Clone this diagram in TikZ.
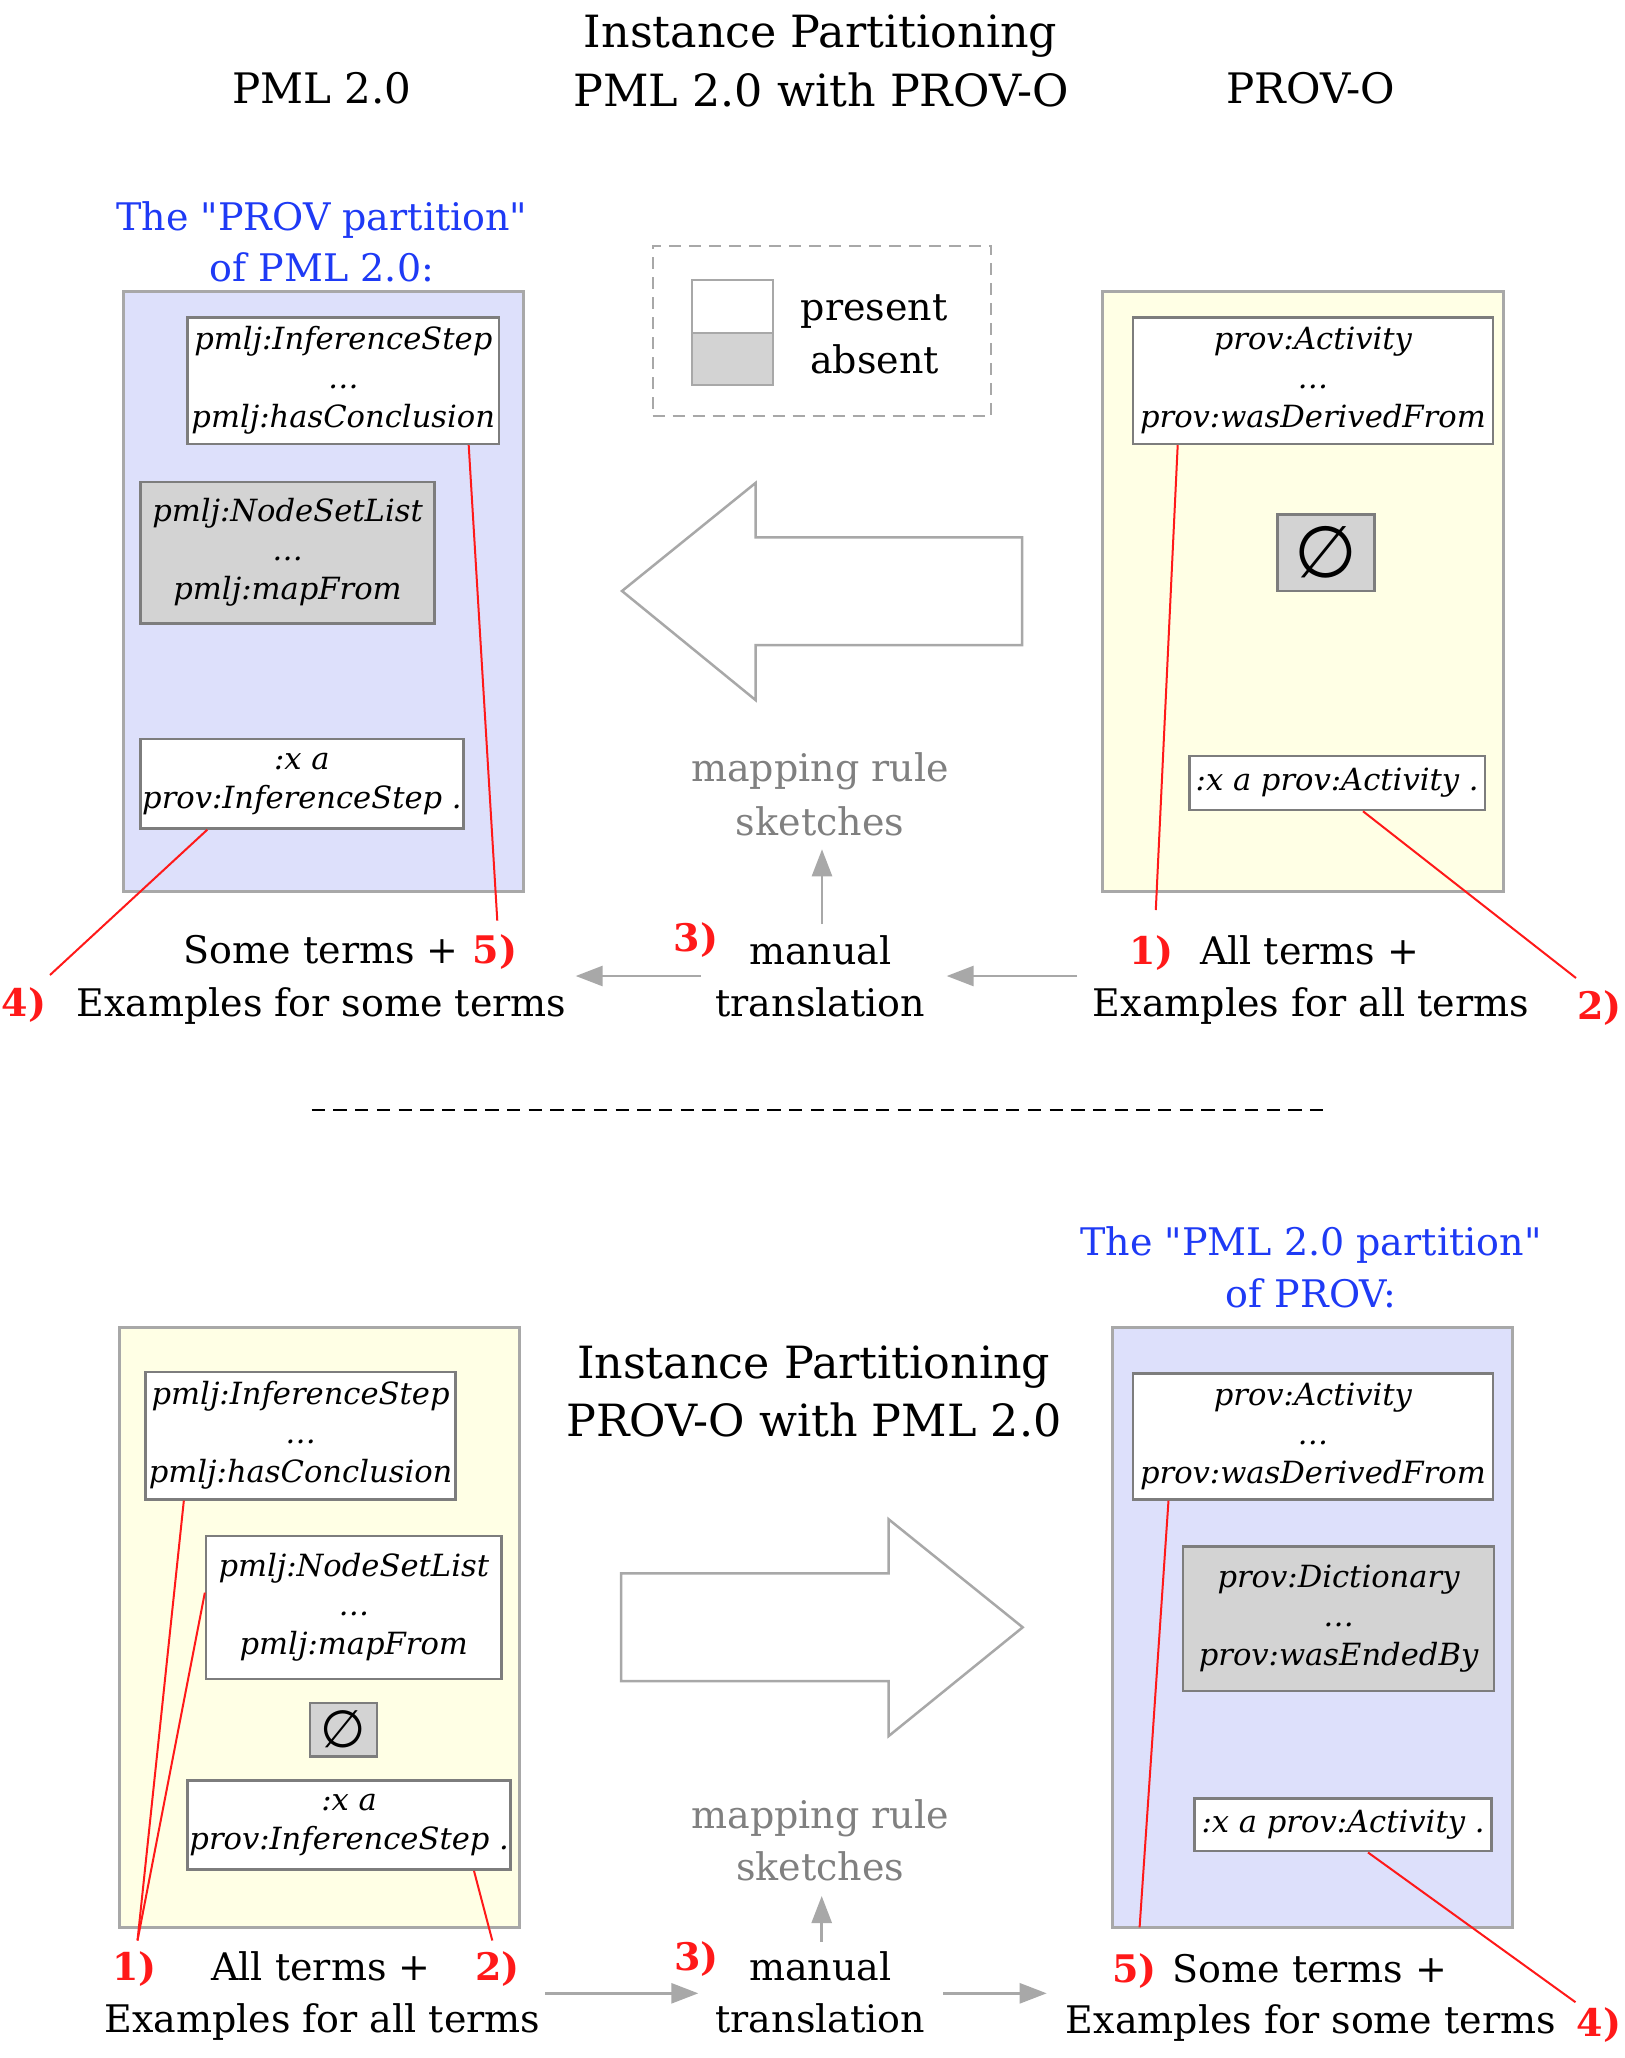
\documentclass[tikz,border=0pt]{standalone}
\usepackage{fontspec}
\setmainfont{DejaVu Serif}[Ligatures=TeXOff]
\newfontfamily\dgSymFont{DejaVu Sans}
\usetikzlibrary{arrows.meta,fit}

\definecolor{partblue}{RGB}{221,224,251}
\definecolor{partyellow}{RGB}{255,255,229}
\definecolor{absentgray}{RGB}{211,211,211}
\definecolor{framegray}{RGB}{168,168,168}
\definecolor{termgray}{RGB}{125,125,125}
\definecolor{notered}{RGB}{255,25,25}
\definecolor{headblue}{RGB}{30,58,245}
\definecolor{sketchgray}{RGB}{128,128,128}

\newcommand\dgBody{\fontsize{19pt}{26.5pt}\selectfont}
\newcommand\dgTitle{\fontsize{22.2pt}{28pt}\selectfont}
\newcommand\dgHead{\fontsize{21pt}{28pt}\selectfont}
\newcommand\dgTerm{\fontsize{15.3pt}{19.5pt}\selectfont\itshape}
\newcommand\dgNum{\fontsize{19pt}{26.5pt}\selectfont\bfseries}

% a framed box given by its corners (x1,y1) (x2,y2) in picture units
\newcommand\dgBox[7]{%
  \node[#1, minimum width={(#5-#3)*0.5pt}, minimum height={(#6-#4)*0.5pt}]
    (#2) at ({(#3+#5)/2},{(#4+#6)/2}) {#7};}

\tikzset{
  txt/.style={anchor=base, inner sep=0pt, font=\dgBody},
  headline/.style={txt, font=\dgTitle},
  colhead/.style={txt, font=\dgHead},
  partlabel/.style={txt, text=headblue},
  sketchtxt/.style={txt, text=sketchgray},
  notenum/.style={txt, font=\dgNum, text=notered},
  partbox/.style={draw=framegray, line width=1.5pt, inner sep=0pt},
  termbox/.style={draw=termgray, line width=1.25pt, fill=white, inner sep=0pt, align=center, font=\dgTerm},
  absentbox/.style={termbox, fill=absentgray},
  emptybox/.style={absentbox, font=\dgSymFont\fontsize{36pt}{40pt}\selectfont},
  legendkey/.style={draw=framegray, line width=1pt, inner sep=0pt},
  flow/.style={draw=framegray, line width=1.35pt, -{Triangle[length=13.5pt,width=10pt]}},
  callout/.style={draw=notered, line width=1pt},
  blockarrow/.style={draw=framegray, line width=1.25pt, fill=white, line join=miter},
  legendframe/.style={draw=framegray, line width=1pt, dash pattern=on 6pt off 4pt, inner sep=0pt},
}

\begin{document}
\begin{tikzpicture}[x=0.5pt,y=-0.5pt]
\useasboundingbox (0,0) rectangle (1624,2058);
\fill[white] (0,0) rectangle (1624,2058);

% ---------- upper half: PML 2.0 with PROV-O ----------
\node[headline] (titleTopA) at (820.6,47.5) {Instance Partitioning};
\node[headline] (titleTopB) at (821,106) {PML 2.0 with PROV-O};
\node[colhead] (colPml) at (321.7,103.3) {PML 2.0};
\node[colhead] (colProv) at (1311,103.3) {PROV-O};

\node[partlabel] (blueTopA) at (322,230) {The "PROV partition"};
\node[partlabel] (blueTopB) at (322,281.7) {of PML 2.0:};

% partitions
\node[partbox, fill=partblue, fit={(123.4,291.5) (523.8,891.5)}] (pmlPartA) {};
\node[partbox, fill=partyellow, fit={(1102.8,291.5) (1503.3,891.5)}] (provPartA) {};

\dgBox{termbox}{pmlStepA}{187.7}{317.7}{498.9}{443.8}{pmlj:InferenceStep\\…\\pmlj:hasConclusion}
\dgBox{absentbox}{pmlListA}{140.5}{481.8}{434.6}{623.6}{pmlj:NodeSetList\\…\\pmlj:mapFrom}
\dgBox{termbox}{pmlExA}{140.5}{739.2}{463.4}{828.4}{:x a\\prov:InferenceStep .}

\dgBox{termbox}{provActA}{1133}{317.7}{1492.8}{443.8}{prov:Activity\\…\\prov:wasDerivedFrom}
\dgBox{emptybox}{provNoneA}{1277.5}{514.7}{1374.6}{590.8}{∅}
\dgBox{termbox}{provExA}{1189.5}{756.2}{1484.9}{810}{:x a prov:Activity .}

% legend
\node[legendframe, fit={(652.5,245.5) (991.2,416.2)}] (legend) {};
\node[legendkey, fill=white, fit={(691.5,280) (772.5,332.5)}] (legPresent) {};
\node[legendkey, fill=absentgray, fit={(691.5,332.5) (772.5,385)}] (legAbsent) {};
\node[txt] (legPresentText) at (874.2,320) {present};
\node[txt] (legAbsentText) at (874.5,373.3) {absent};

% big arrow PROV-O -> PML 2.0
\draw[blockarrow] (622,591) -- (755.5,483) -- (755.5,537.3) -- (1022,537.3)
  -- (1022,645) -- (755.5,645) -- (755.5,700) -- cycle;

\node[sketchtxt] (mapTopA) at (820,781.7) {mapping rule};
\node[sketchtxt] (mapTopB) at (820,835) {sketches};
\node[txt] (manTopA) at (820.5,964.3) {manual};
\node[txt] (manTopB) at (820.3,1016) {translation};
\node[notenum] (num3Top) at (696,951) {3)};

\node[txt] (someTop) at (321.4,963.5) {Some terms +};
\node[notenum] (num5Top) at (495,963.5) {5)};
\node[txt] (exSomeTop) at (321.3,1016.7) {Examples for some terms};
\node[notenum] (num4Top) at (24.2,1016.7) {4)};

\node[notenum] (num1Top) at (1151.4,964) {1)};
\node[txt] (allTop) at (1309.6,964) {All terms +};
\node[txt] (exAllTop) at (1311,1016.5) {Examples for all terms};
\node[notenum] (num2Top) at (1599.5,1019) {2)};

\coordinate (flowTopAs) at (700.7,976);
\coordinate (flowTopAe) at (575.7,976);
\coordinate (flowTopBs) at (1077,976);
\coordinate (flowTopBe) at (946.7,976);
\draw[flow] (flowTopBs) -- (flowTopBe);
\draw[flow] (flowTopAs) -- (flowTopAe);
\draw[flow] ([xshift=0.75pt,yshift=20.15pt]manTopA.base) -- ([xshift=1pt,yshift=-7.15pt]mapTopB.base);

\draw[callout] ([xshift=62.7pt]pmlStepA.south) -- ([xshift=1.15pt,yshift=21.4pt]num5Top.base);
\draw[callout] ([xshift=-47.3pt]pmlExA.south) -- ([xshift=12.9pt,yshift=20.85pt]num4Top.base);
\draw[callout] ([xshift=-67.6pt]provActA.south) -- ([xshift=2.2pt,yshift=27pt]num1Top.base);
\draw[callout] ([xshift=12.9pt]provExA.south) -- ([xshift=-11.75pt,yshift=20.5pt]num2Top.base);

% separator
\coordinate (sepL) at (311.7,1110);
\coordinate (sepR) at (1326,1110);
\draw[line width=1.35pt, dash pattern=on 6.65pt off 4.2pt] (sepL) -- (sepR);

% ---------- lower half: PROV-O with PML 2.0 ----------
\node[headline] (titleBotA) at (813.7,1378) {Instance Partitioning};
\node[headline] (titleBotB) at (814,1436.7) {PROV-O with PML 2.0};

\node[partlabel] (blueBotA) at (1311,1255) {The "PML 2.0 partition"};
\node[partlabel] (blueBotB) at (1311,1307.7) {of PROV:};

\node[partbox, fill=partyellow, fit={(119.5,1327.3) (519.9,1927.3)}] (pmlPartB) {};
\node[partbox, fill=partblue, fit={(1112,1327.3) (1512.5,1927.3)}] (provPartB) {};

\dgBox{termbox}{pmlStepB}{145.7}{1372}{455.6}{1499.3}{pmlj:InferenceStep\\…\\pmlj:hasConclusion}
\dgBox{termbox}{pmlListB}{206.1}{1536}{501.5}{1679.2}{pmlj:NodeSetList\\…\\pmlj:mapFrom}
\dgBox{emptybox, font=\dgSymFont\fontsize{26pt}{30pt}\selectfont}{pmlNoneB}{309.8}{1702.8}{376.8}{1756.7}{∅}
\dgBox{termbox}{pmlExB}{187.7}{1780.3}{510.7}{1869.6}{:x a\\prov:InferenceStep .}

\dgBox{termbox}{provActB}{1133}{1373.3}{1492.8}{1499.3}{prov:Activity\\…\\prov:wasDerivedFrom}
\dgBox{absentbox}{provDictB}{1183}{1546.6}{1494.1}{1691}{prov:Dictionary\\…\\prov:wasEndedBy}
\dgBox{termbox}{provExB}{1194.7}{1798.7}{1491.5}{1851.2}{:x a prov:Activity .}

% big arrow PML 2.0 -> PROV-O
\draw[blockarrow] (621,1573.3) -- (888.7,1573.3) -- (888.7,1519.3) -- (1022.7,1627.3)
  -- (888.7,1736) -- (888.7,1681) -- (621,1681) -- cycle;

\node[sketchtxt] (mapBotA) at (820.3,1828.3) {mapping rule};
\node[sketchtxt] (mapBotB) at (820.3,1880.7) {sketches};
\node[txt] (manBotA) at (820.3,1980.7) {manual};
\node[txt] (manBotB) at (820.3,2032.7) {translation};
\node[notenum] (num3Bot) at (696.5,1970) {3)};

\node[notenum] (num1Bot) at (134.5,1980.7) {1)};
\node[txt] (allBot) at (321,1980.7) {All terms +};
\node[notenum] (num2Bot) at (497.5,1980.7) {2)};
\node[txt] (exAllBot) at (322.4,2032.7) {Examples for all terms};

\node[notenum] (num5Bot) at (1134.3,1982) {5)};
\node[txt] (someBot) at (1310,1982) {Some terms +};
\node[txt] (exSomeBot) at (1311,2033) {Examples for some terms};
\node[notenum] (num4Bot) at (1599,2036) {4)};

\coordinate (flowBotAs) at (545,1993.3);
\coordinate (flowBotAe) at (698.3,1993.3);
\coordinate (flowBotBs) at (943.3,1993.3);
\coordinate (flowBotBe) at (1046.7,1993.3);
\draw[flow] (flowBotAs) -- (flowBotAe);
\draw[flow] (flowBotBs) -- (flowBotBe);
\draw[flow] ([xshift=0.7pt,yshift=19.5pt]manBotA.base) -- ([xshift=0.7pt,yshift=-7.65pt]mapBotB.base);

\draw[callout] ([xshift=-58.4pt]pmlStepB.south) -- ([xshift=1.5pt,yshift=20.1pt]num1Bot.base);
\draw[callout] ([yshift=7.5pt]pmlListB.west) -- ([xshift=1.5pt,yshift=20.1pt]num1Bot.base);
\draw[callout] ([xshift=62.4pt]pmlExB.south) -- ([xshift=-2.6pt,yshift=20.1pt]num2Bot.base);
\draw[callout] ([xshift=-72.2pt]provActB.south) -- ([xshift=2.65pt,yshift=27.35pt]num5Bot.base);
\draw[callout] ([xshift=12.45pt]provExB.south) -- ([xshift=-11.75pt,yshift=16.9pt]num4Bot.base);
\end{tikzpicture}
\end{document}
